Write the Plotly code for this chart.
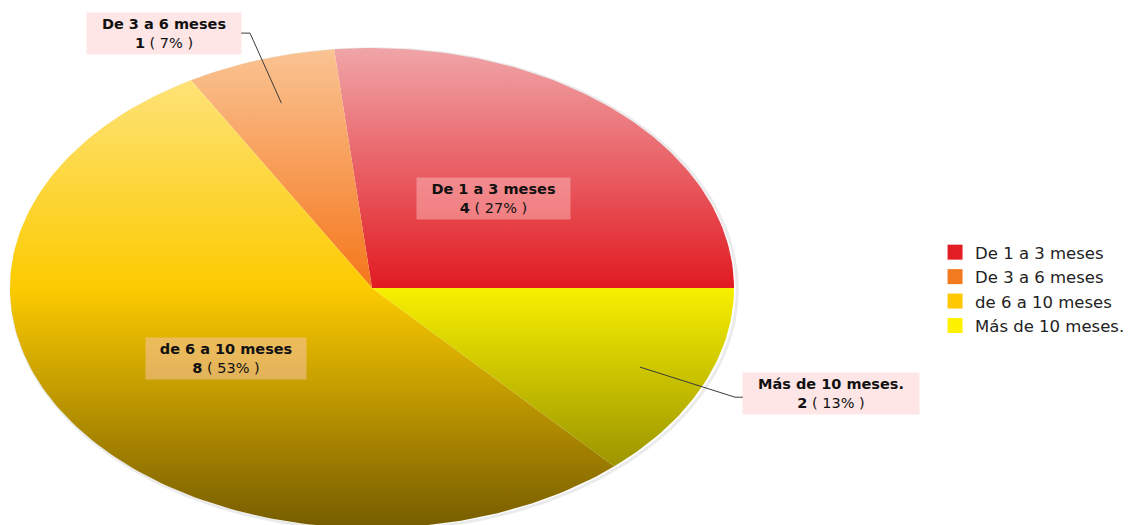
import numpy as np
import plotly.graph_objects as go

# ---- data ----
categories = ["De 1 a 3 meses", "De 3 a 6 meses", "de 6 a 10 meses", "Más de 10 meses."]
values = [4, 1, 8, 2]

# ---- styles ----
base_colors = ["#E21D24", "#F47A20", "#FFC800", "#FFF200"]
gradients = [
    [[0, "#7A0E12"], [0.5, "#E11B22"], [1, "#F0A5A8"]],
    [[0, "#7A3D10"], [0.5, "#F5761A"], [1, "#FAC494"]],
    [[0, "#765C00"], [0.5, "#FCCB00"], [1, "#FEE68A"]],
    [[0, "#7B7500"], [0.5, "#F8F000"], [1, "#FFF98A"]],
]
# label placement: inside (radius factor) or outside (label centre in data units)
label_inside = [True, False, True, False]
outside_pos = {1: (-0.575, 1.062, -0.337, -0.362), 3: (1.268, -0.438, 1.003, 1.025)}
label_w = [147, 148, 154, 170]

# pixel geometry of the stretched pie: centre (372, 288), radii 362 x 240
CX, CY, RX, RY = 372, 288, 362, 240
W, H = 1141, 525
xr = [(0 - CX) / RX, (W - CX) / RX]
yr = [(CY - H) / RY, CY / RY]

total = sum(values)
fig = go.Figure()

# ellipse shadow
tt = np.linspace(0, 2 * np.pi, 400)
fig.add_trace(go.Scatter(x=np.cos(tt) * 1.003 + 0.006, y=np.sin(tt) * 1.003 - 0.006, mode="lines",
                         line=dict(color="rgba(0,0,0,0.08)", width=3), showlegend=False, hoverinfo="skip"))

start = 0.0
mids = []
for i, (cat, v) in enumerate(zip(categories, values)):
    frac = v / total
    a0, a1 = start * 2 * np.pi, (start + frac) * 2 * np.pi
    t = np.linspace(a0, a1, max(8, int(300 * frac)))
    xs = np.concatenate([[0], np.cos(t), [0]])
    ys = np.concatenate([[0], np.sin(t), [0]])
    fig.add_trace(go.Scatter(
        x=xs, y=ys, mode="lines", fill="toself", line=dict(width=0, color=base_colors[i]),
        fillgradient=dict(type="vertical", colorscale=gradients[i], start=-1, stop=1),
        showlegend=False, hoverinfo="skip"))
    mids.append((a0 + a1) / 2)
    start += frac

# legend entries
for i, cat in enumerate(categories):
    fig.add_trace(go.Scatter(x=[None], y=[None], mode="markers", name=cat,
                             marker=dict(symbol="square", size=15, color=base_colors[i])))

# labels
for i, (cat, v) in enumerate(zip(categories, values)):
    pct = round(v / total * 100)
    txt = f"<b>{cat}</b><br><b>{v}</b> ( {pct}% )"
    m = mids[i]
    if label_inside[i]:
        lx, ly = 0.5 * np.cos(m), 0.5 * np.sin(m)
    else:
        lx, ly, ex, ex2 = outside_pos[i]
        sx, sy = 0.81 * np.cos(m), 0.81 * np.sin(m)
        yl = ly - 0.017 if i == 3 else ly
        fig.add_trace(go.Scatter(x=[sx, ex, ex2], y=[sy, yl, yl], mode="lines",
                                 line=dict(color="#3a3a3a", width=1), showlegend=False, hoverinfo="skip"))
    fig.add_annotation(x=lx, y=ly, text=txt, showarrow=False, xref="x", yref="y",
                       font=dict(family="DejaVu Sans", size=14.5, color="#111"),
                       bgcolor="rgba(255,200,200,0.45)", borderpad=3, width=label_w[i], height=35,
                       align="center", valign="middle")

fig.update_layout(
    width=W, height=H, margin=dict(l=0, r=0, t=0, b=0),
    paper_bgcolor="white", plot_bgcolor="white",
    xaxis=dict(range=xr, visible=False, fixedrange=True),
    yaxis=dict(range=yr, visible=False, fixedrange=True),
    legend=dict(x=0.8195, y=0.5525, xanchor="left", yanchor="top",
                font=dict(family="DejaVu Sans", size=16.5, color="#222"),
                tracegroupgap=0, itemsizing="trace"),
    showlegend=True,
)
fig.write_html("out.html")
